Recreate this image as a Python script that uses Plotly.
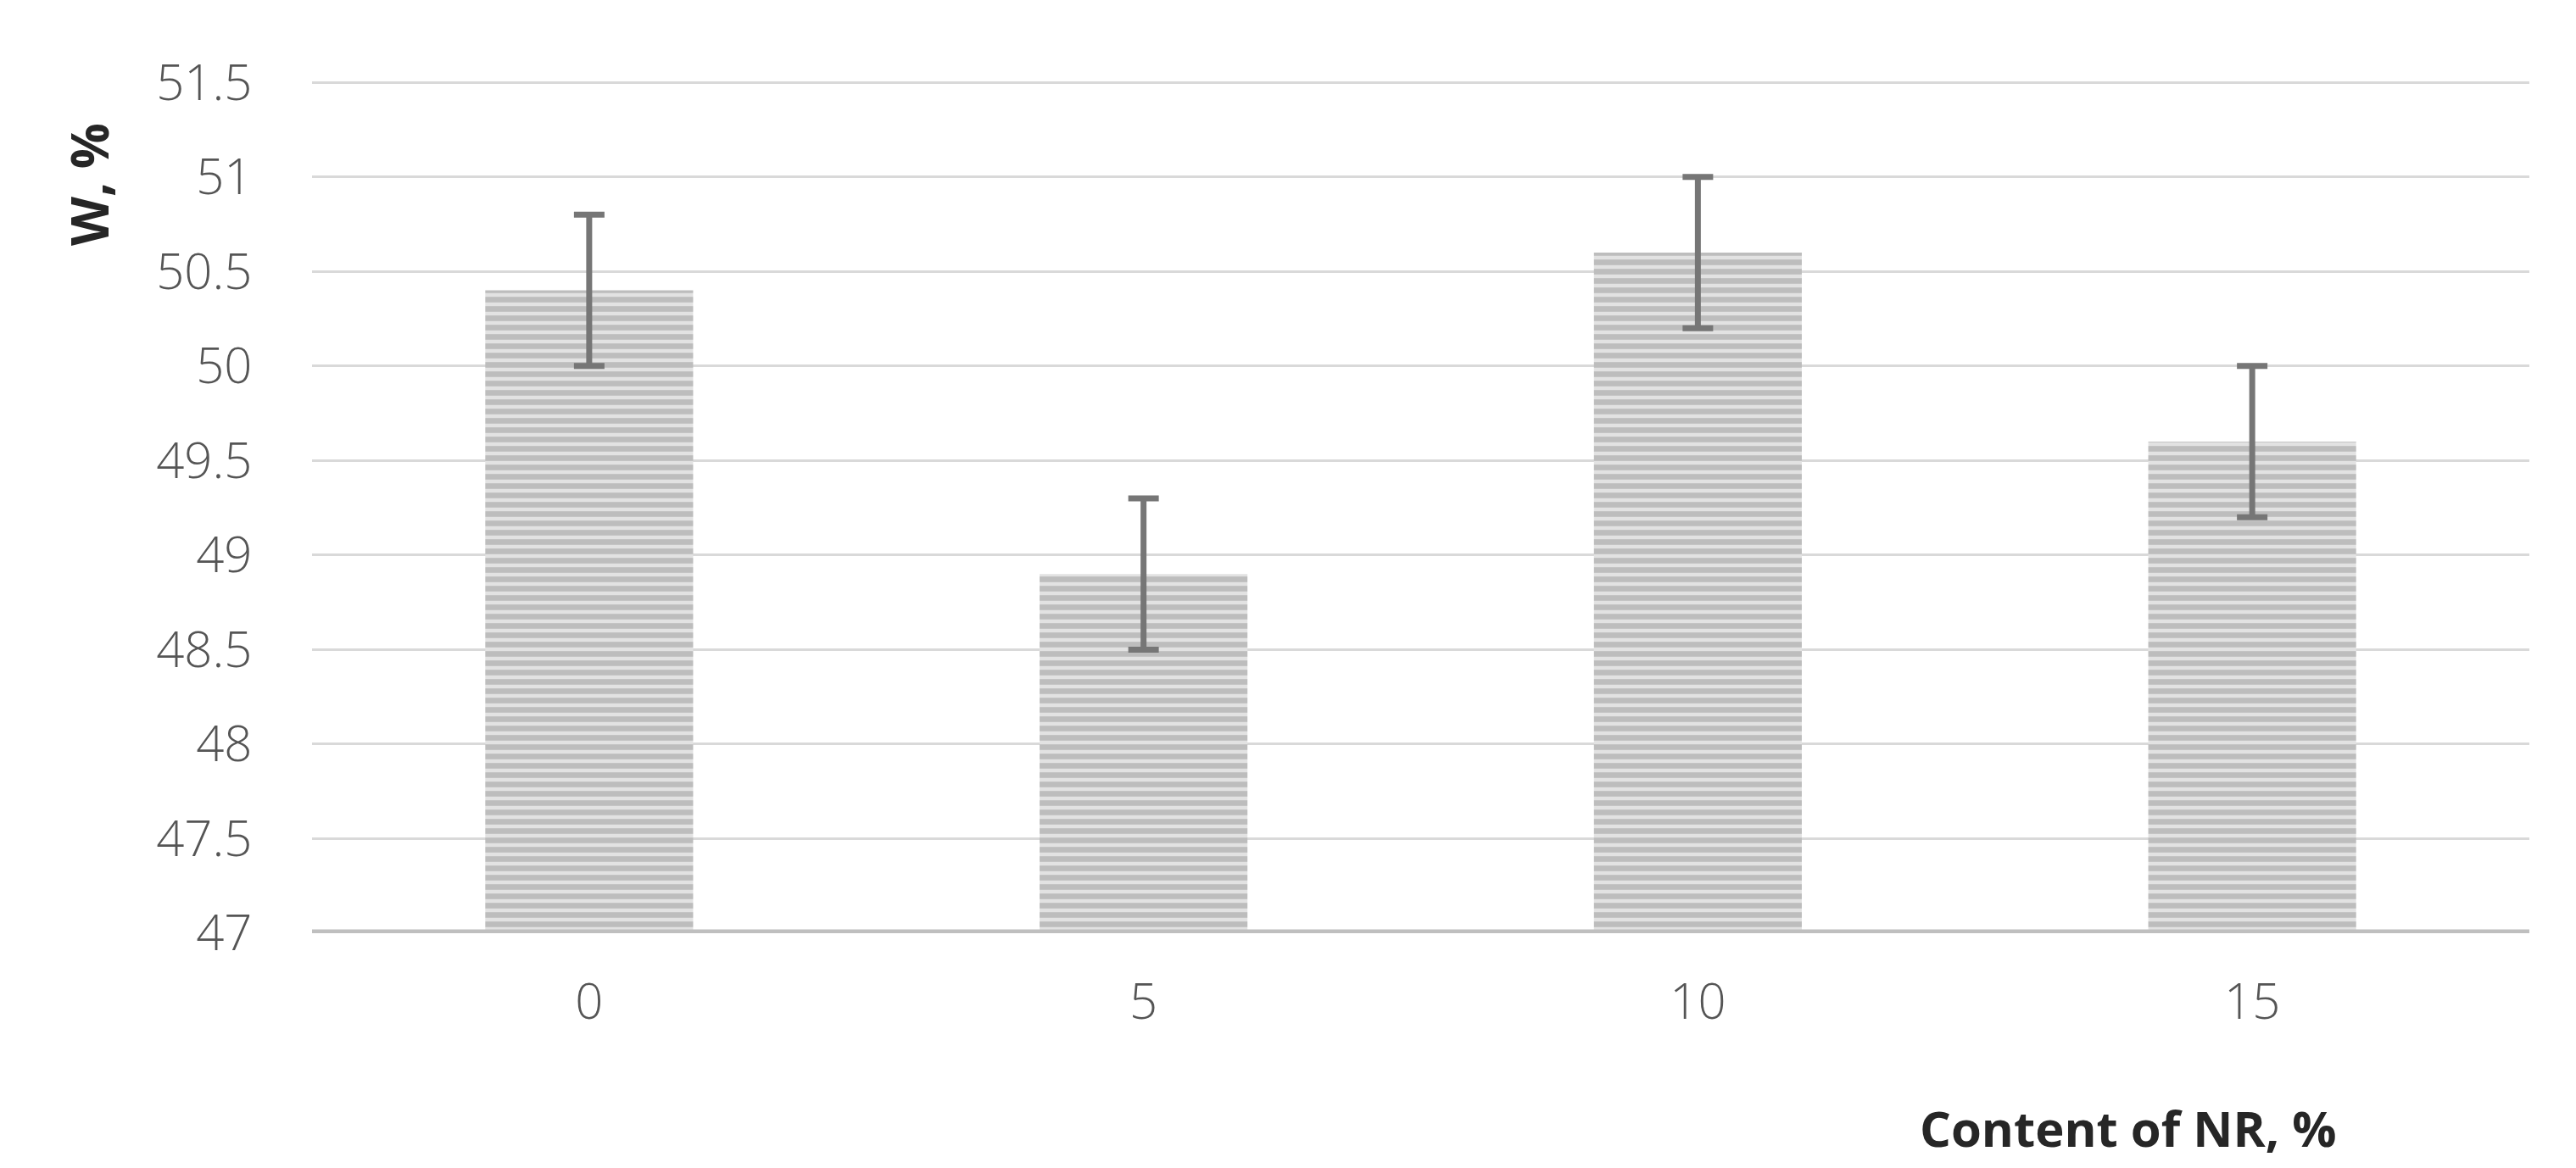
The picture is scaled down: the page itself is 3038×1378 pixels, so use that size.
import plotly.graph_objects as go

categories = ["0", "5", "10", "15"]
values = [50.4, 48.9, 50.6, 49.6]
errors = [0.4, 0.4, 0.4, 0.4]
y_ticks = [47, 47.5, 48, 48.5, 49, 49.5, 50, 50.5, 51, 51.5]
y_ticklabels = ["47", "47.5", "48", "48.5", "49", "49.5", "50", "50.5", "51", "51.5"]

W, H = 3038, 1378
L, R, T, B = 360, 63, 87, 285
pw, ph = W - L - R, H - T - B

fig = go.Figure()
fig.add_trace(go.Bar(
    x=categories, y=[v - 47 for v in values], base=47,
    width=0.375,
    marker=dict(
        color="#e2e2e2",
        line=dict(width=0),
        pattern=dict(shape="-", fgcolor="#979797", bgcolor="#e2e2e2", size=11, solidity=0.6),
    ),
    error_y=dict(type="data", array=errors, visible=True, color="#767676", thickness=7, width=18),
    showlegend=False,
))

fig.update_layout(
    width=W, height=H,
    margin=dict(l=L, r=R, t=T, b=B, autoexpand=False),
    paper_bgcolor="white", plot_bgcolor="white",
    bargap=0.625,
    font=dict(family="Open Sans", color="#595959"),
    xaxis=dict(
        type="category", showgrid=False, zeroline=False,
        showline=False,
        ticks="outside", ticklen=30, tickcolor="rgba(0,0,0,0)",
        tickfont=dict(size=58, color="#555555", family="Open Sans", weight=300),
    ),
    yaxis=dict(
        range=[47, 51.51], tickvals=y_ticks, ticktext=y_ticklabels,
        showgrid=True, gridcolor="#d9d9d9", gridwidth=3,
        zeroline=False, showline=False,
        ticks="outside", ticklen=58, tickcolor="rgba(0,0,0,0)",
        tickfont=dict(size=58, color="#555555", family="Open Sans", weight=300),
    ),
    shapes=[dict(type="line", xref="paper", yref="y", x0=0, x1=1, y0=47, y1=47,
                 line=dict(color="#bfbfbf", width=9), layer="above")],
    annotations=[
        dict(text="<b>Content of NR, %</b>", xref="paper", yref="paper",
             x=(2750 - L) / pw, y=(H - B - 1322) / ph, xanchor="right", yanchor="middle",
             showarrow=False, font=dict(size=58, color="#262626", family="Open Sans")),
        dict(text="<b>W, %</b>", xref="paper", yref="paper",
             x=(97 - L) / pw, y=(H - B - 210) / ph, xanchor="center", yanchor="middle",
             textangle=-90, showarrow=False, font=dict(size=60, color="#262626", family="Open Sans")),
    ],
)

fig.write_html("out.html")
